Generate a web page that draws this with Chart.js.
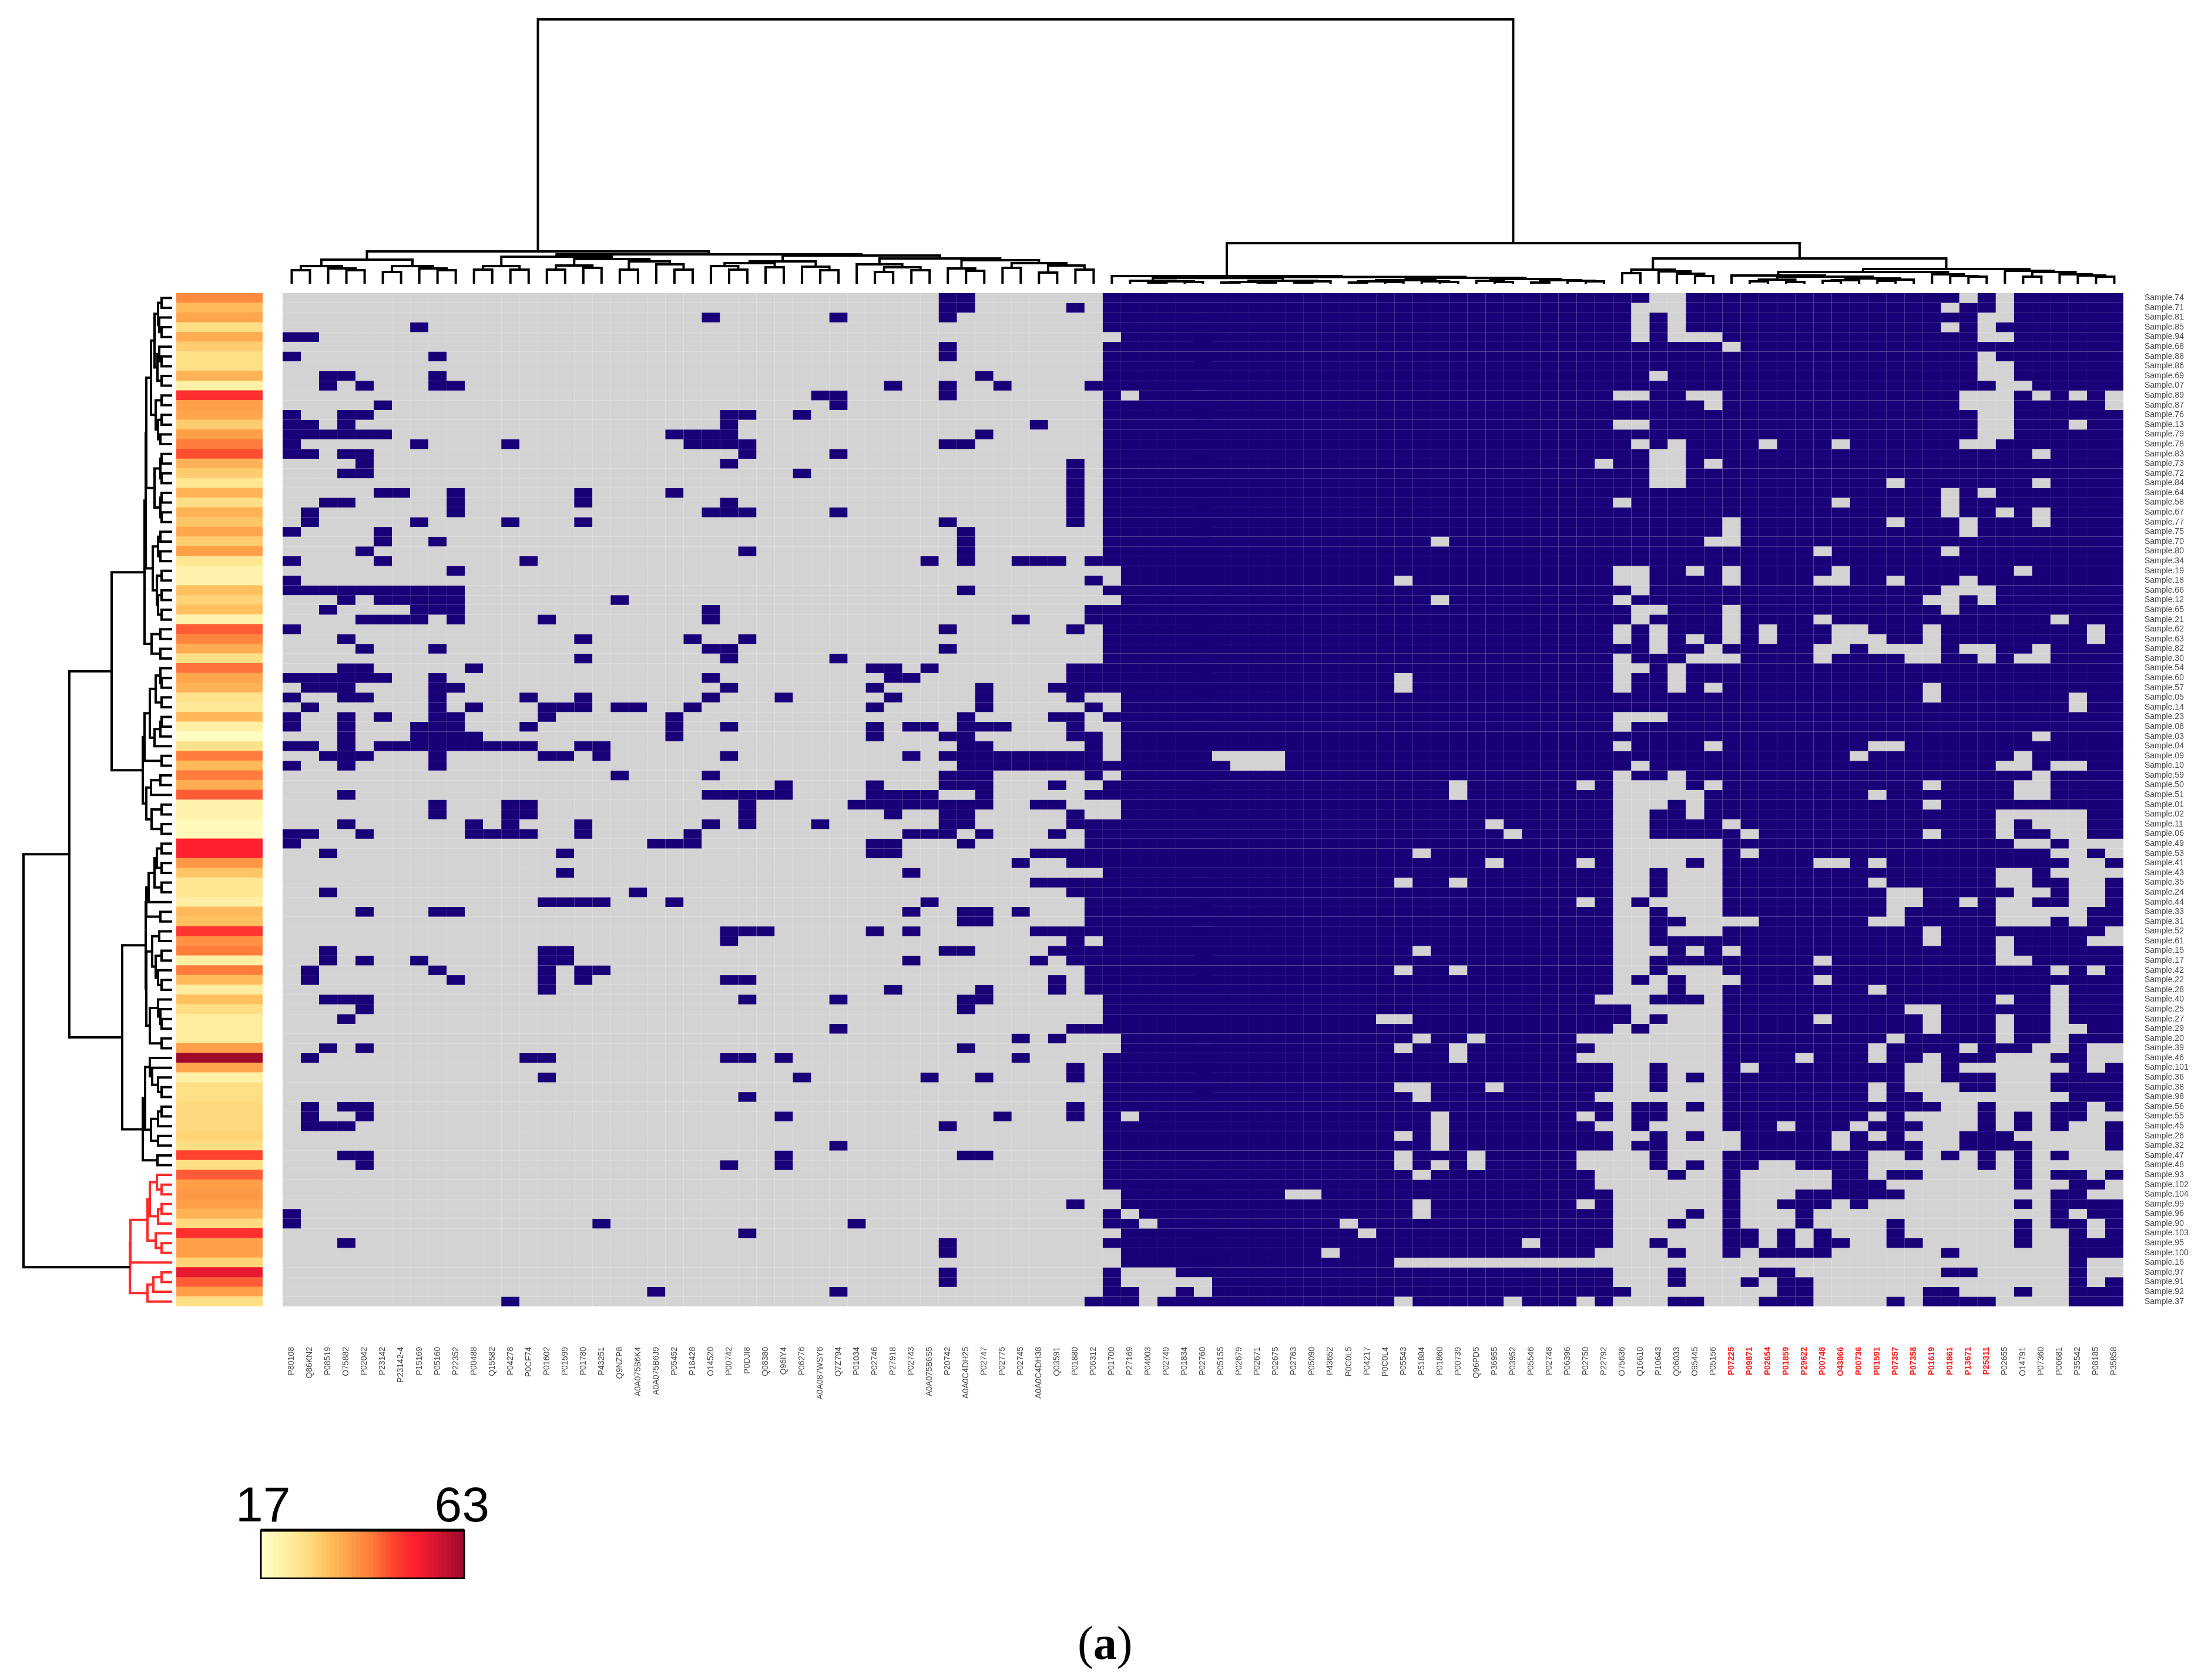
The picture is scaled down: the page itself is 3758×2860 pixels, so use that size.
<!DOCTYPE html>
<html>
<head>
<meta charset="utf-8">
<title>Heatmap</title>
<script src="https://cdn.jsdelivr.net/npm/chart.js@4/dist/chart.umd.min.js"></script>
<style>
html, body { margin: 0; padding: 0; background: #fff; }
#page { position: relative; width: 3758px; height: 2860px; overflow: hidden; background: #fff; }
canvas { position: absolute; display: block; }
#caption { position: absolute; left: 1834px; top: 2752px; font: 80px "Liberation Serif", serif; color: #000; }
</style>
</head>
<body>
<div id="page">
  <canvas id="topTree" width="3133" height="463" style="left:481px;top:20px"></canvas>
  <canvas id="leftTree" width="293" height="1725" style="left:0;top:499px"></canvas>
  <canvas id="ageStrip" width="147" height="1725" style="left:300px;top:499px"></canvas>
  <canvas id="heatmap" width="3277" height="1901" style="left:481px;top:499px"></canvas>
  <canvas id="ageLegend" width="546" height="183" style="left:344px;top:2505px"></canvas>
  <div id="caption">(<b>a</b>)</div>
</div>
<script>
const proteins = ['P80108','Q86KN2','P08519','O75882','P02042','P23142','P23142-4','P15169','P05160','P22352','P00488','Q15582','P04278','P0CF74','P01602','P01599','P01780','P43251','Q9NZP8','A0A075B6K4','A0A075B6J9','P05452','P18428','O14520','P00742','P0DJI8','Q08380','Q96IY4','P06276','A0A087WSY6','Q7Z794','P01034','P02746','P27918','P02743','A0A075B6S5','P20742','A0A0C4DH25','P02747','P02775','P02745','A0A0C4DH38','Q03591','P01880','P06312','P01700','P27169','P04003','P02749','P01834','P02760','P05155','P02679','P02671','P02675','P02763','P05090','P43652','P0C0L5','P04217','P0C0L4','P05543','P51884','P01860','P00739','Q96PD5','P36955','P03952','P05546','P02748','P06396','P02750','P22792','O75636','Q16610','P10643','Q06033','O95445','P05156','P07225','P09871','P02654','P01859','P29622','P00748','O43866','P00736','P01591','P07357','P07358','P01619','P01861','P13671','P25311','P02655','O14791','P07360','P06681','P35542','P08185','P35858'];
const redProteins = ['P07225','P09871','P02654','P01859','P29622','P00748','O43866','P00736','P01591','P07357','P07358','P01619','P01861','P13671','P25311'];

const sampleIds = ['74','71','81','85','94','68','88','86','69','07','89','87','76','13','79','78','83','73','72','84','64','58','67','77','75','70','80','34','19','18','66','12','65','21','62','63','82','30','54','60','57','05','14','23','08','03','04','09','10','59','50','51','01','02','11','06','49','53','41','43','35','24','44','33','31','52','61','15','17','42','22','28','40','25','27','29','20','39','46','101','36','38','98','56','55','45','26','32','47','48','93','102','104','99','96','90','103','95','100','16','97','91','92','37'];

// age per sample
const ages = [40,33,36,27,35,30,27,27,34,22,50,37,36,30,37,42,46,34,30,25,34,27,34,31,36,30,37,25,21,21,32,29,32,21,45,41,35,27,43,36,34,26,24,33,22,18,26,42,33,42,35,45,21,21,19,19,52,52,38,31,25,25,22,33,32,49,39,42,22,42,33,23,32,27,23,23,23,37,63,36,22,27,27,28,28,28,29,27,47,27,45,37,38,37,34,28,50,37,37,29,55,45,37,27];
const legendTicks = [17, 63];

// cells present in the mostly empty left block (columns 1-45), one entry per row
const presentLeft = ['37 38','37 38 44','24 31 37','8','1 2','37','1 9 37','','3 4 9 39','3 5 9 10 34 37 40 45','30 31 37','6 31','1 4 5 25 26 29','1 2 4 25 42','1-6 22-25 39','1 8 13 23-26 37 38','1 2 4 5 26 31','5 25 44','4 5 29 44','44','6 7 10 17 22 44','3 4 10 17 25 44','2 10 24 25 26 31 44','2 8 13 17 37 44','1 6 38','6 9 38','5 26 38','1 6 14 36 38 41 42 43 45','10','1 45','1-10 38','4 6-10 19','3 8 9 10 24 45','5-8 10 15 24 41 45','1 37 44','4 17 23 26','5 9 24 25 37','17 25 31','4 5 11 33 34 36 44 45','1-6 9 24 34 35 44 45','2 3 4 9 10 25 33 39 43 44 45','1 4 5 9 14 17 24 28 34 39 44','2 9 11 15 16 17 19 20 23 33 39 45','1 4 6 9 10 15 22 38 43 44','1 4 8 9 10 14 22 25 33 35 36 38 39 40 44','4 8-11 22 33 37 38 44 45','1 2 4 6-14 17 18 38 39 45','3 4 5 9 15 16 18 25 35 37-45','1 4 9 38-45','19 24 37 38 39 45','28 33 37 38 39 43','4 24-28 33-36 39 45','9 13 14 26 32-39 42 43','9 13 14 26 34 37 38 44','4 11 13 17 24 26 30 37 38 44 45','1 2 5 11-14 17 23 35 36 37 39 43 45','1 21 22 23 33 34 38 45','3 16 33 34 42-45','41 44 45','16 35','42-45','3 20 44 45','15-18 22 36 45','5 9 10 35 38 39 41 45','38 39 45','25 26 27 33 35 42-45','25 44','3 15 16 37 38 43 44 45','3 5 8 15 16 35 42 44 45','2 9 15 17 18 45','2 10 15 17 25 26 43 45','15 34 39 43 45','3 4 5 26 31 38 39','5 38','4','31 44 45','41 43','3 5 38','2 14 15 25 26 28 41','44','15 29 36 39 44','','26','2 4 5 44','2 5 28 40 44','2 3 4 37','','31','4 5 28 38 39','5 25 28','','','','44','1','1 18 32','26','4 37','37','','37','37','21 31','13 45'];

// cells absent in the mostly full right block (columns 46-101), one entry per row
const absentRight = ['76 77 93 95','75 76 77 92 95','75 77 94 95','75 77 92 94','46 75 77 78 79 94 95','80','94','94 95','76 94 95','95 96','47 74 75 78 79 93 94 95 97 99 101','79 93 94 95 101','94 95','74 75 94 95 99','94 95','75 77 82 86 93 94','76 77 97','73 76 77 79','76 77','76 77 89 97','92 94','74 86 92','92 95 97','80 89 93 97','80 93','64 79 80','85 92','','46 74 75 78 80 86 96','46 62 74 75 80 85 86 89 93','75 92 93 94','46 64 74 91 92 94','75 76 80 92','75 80 85 98','74 76 80 82 86 87 91 100','74 76 78 80 82 86 87 88 91 100','76 79 85 86 88 89 90 91 93 94 97','74 78 79 80 85 90 91 94 96 97','74 75 77','62 74 77','62 74 77 79 91','46 91 99','46 99','74 75 76','46 74','46 97','46 74 79 88 89','46 52 53 54 55 87 96','53 54 55 75 95 96 98 99','46 74 77 97','65 72 74-77 79 91 96 97','65 74-78 88 96 97','46 74 75 76 78 91','46 74 75 78 95-99','67 74 75 80 95 97 98 99','68 74 75 81 91 95 98 99','74-79 96 97 99 100 101','63 74-79 81 98 99 101','67 72 74-77 79 85 86 88 99 100','74 75 77 78 79 95 96 98-101','62 65 74 75 77 78 79 88 95 96 99 100','74 75 77 78 79 89 90 96 97 99 100','72 74 76-79 89 90 93 95 96 99 100','74 75 77 78 79 89 95-99','74 75 78-81 88 89 95 96 97 99','74 75 77 78 79 91 101','74 75 91 95 100 101','63 74 75 76 78 80 95','74 75 85 95 96','62 65 74 75 77 78 79 98 100','74 76 78 79 80 85','74 75 76 78 79 88 98','73 74 75 79 95 98','75-79 90 91 98','61 62 75 77 78 79 85 91 95 98','74 76-79 91 95 98 99','46 63 66 72-79 89 95 98','46 62 65 73-79 88 93 97 98 100 101','65 72-79 84 88 91 95 96 97 100 101','74 75 77 78 79 81 90 91 93-98 100','74 75 77 79 90 91 95 96 97','62 63 67 74 75 77 78 79 88 90 91 92 95 96 97','63 73-79 88 91-98','74 77 79 92 93 95 96 97 100','47 64 72 74 77 78 79 88 90-93 95 97 100 101','64 73 74 76-79 83 87 91 92 93 95 97 99 100','62 64 74 75 77 79 80 86 88 90 91 92 96-100','64 74 77-80 86 91 92 97-100','62 66 72-75 77 78 79 88 89 91 93 95 97 99 100 101','62 64 66 72-75 77 79 82 83 88-93 95 97-101','63 73-76 78 79 81-85 88 91-95 97 100','73-79 81-85 89-95 97 98 101','46 56 57 74-79 81 82 83 90-97 100 101','46 63 72 74-79 81 82 86 88-95 97','47 63 74-77 79 81 82 83 85-97 99','48 59 74 75 76 78 79 81 82 83 85-88 90-95 97 100','46 60 74-79 82 84 86 87 88 90-95 97 98 100','69 74 75 77 78 79 82 84 87 88 91-95 97 98','46 58 73-76 78 79 81 86-91 93-98','46 62-98 100 101','47 48 49 74 75 76 78-81 84-91 94-98 100 101','47-51 74 75 76 78 79 80 82 85-98 100','48 49 51 75-82 85-90 93 94 95 97 98','48 62 68 72 74 75 76 79 80 81 85-88 90 95-98'];

// dendrograms as nested [height, branchA, branchB], a bare number is a leaf
const columnTree = [450,
  [55,
    [41,
      [30, [23,1,2], [26,3,[23,4,5]]],
      [30, [20,6,7], [26,8,[23,9,10]]]],
    [50,
      [46,
        [30, [24,11,12], [24,13,14]],
        [42,
          [31, [24,15,16], [27,17,18]],
          [38, [24,19,20], [33,21,[24,22,23]]]]],
      [48,
        [38,
          [35, [30,24,[24,25,26]], [28,27,28]],
          [29,29,[23,30,31]]],
        [43,
          [33,32,[28,[20,33,34],[23,35,36]]],
          [40,
            [26,37,[22,38,39]],
            [35, [27,40,41], [31,[19,42,43],[24,44,45]]]]]]]],
  [69,
    [13,46,
      [11.5,
        [9.7,
          [5,47,[4,[2,48,49],[3,50,51]]],
          [5,[3,[2,52,53],[2,54,55]],[4,[2,56,57],58]]],
        [10,
          [6,[4,[2,59,60],[3,61,62]],[4,63,[3,64,65]]],
          [8,[5,66,[3,67,68]],[6,[2,69,70],[5,71,[4,72,73]]]]]]],
    [43,
      [24, [18,74,75], [21,76,[17,77,[13,78,79]]]],
      [25,
        [20,
          [14,80,
            [12,
              [7,[4,81,82],[3,83,84]],
              [9,[6,[5,85,86],87],[7,[5,88,89],90]]]],
          [16,91,[13,92,[12,93,94]]]],
        [22,95,[20,[12,96,97],[16,98,[14,99,[12,100,101]]]]]]]]];

const rowTreeBlack = [175,
  [103,
    [47,
      [45,
        [44,
          [36,
            [30,
              [24,[18,0,1],[22,2,[18,3,4]]],
              [25,[22,5,[18,6,7]],[18,8,9]]],
            [28,[18,10,11],[24,[18,12,13],[20,14,15]]]],
          [30,[20,[18,16,17],[18,18,19]],[20,[18,20,21],[18,22,23]]]],
        [33,
          [24,[20,24,25],[20,26,27]],
          [26,[18,28,29],[24,[18,30,31],[18,32,33]]]]],
      [35,[20,34,35],[20,36,37]]],
    [50,
      [47,
        [38,
          [28,[20,38,[18,39,40]],[18,41,42]],
          [30,[20,[18,43,44],45],46]],
        [18,47,48]],
      [44,
        [36,[20,49,50],51],
        [35,[18,52,53],[18,54,55]]]]],
  [85,
    [45,
      [44,
        [40,[30,[26,[18,56,57],[18,58,59]],[18,60,61]],62],
        [20,63,64]],
      [44,
        [34,[22,65,66],[28,[18,67,68],[24,69,[18,70,71]]]],
        [38,[24,72,[20,73,[18,74,75]]],[18,76,77]]]],
    [50,
      [46,
        [38,78,[34,79,[24,80,[18,81,82]]]],
        [36,[24,[18,83,84],85],[24,86,87]]],
      [25,88,89]]]];

const rowTreeRed = [72,
  [71,
    [42,
      [38,[26,90,[18,91,92]],[24,[18,93,94],95]],
      [28,96,[18,97,98]]],
    99],
  [42,[32,[18,100,101],102],103]];

const rowRootHeight = 253;

const ageStops = [[17,'#FFFFC8'],[22,'#FFF0A5'],[27,'#FFDF85'],[32,'#FFC060'],[37,'#FF9F48'],[42,'#FF7D3C'],[47,'#FF442E'],[52,'#FF2030'],[57,'#D81530'],[63,'#9E0B2A']];
const NAVY = '#1A0078';
const GREY = '#D3D3D3';
const TICK_GREY = '#4A4A4A';

Chart.defaults.font.family = '"Liberation Sans", Arial, sans-serif';
Chart.defaults.animation = false;
Chart.defaults.responsive = false;
Chart.defaults.devicePixelRatio = 1;
Chart.defaults.events = [];
Chart.defaults.plugins.legend.display = false;
Chart.defaults.plugins.tooltip.enabled = false;
Chart.defaults.layout.autoPadding = false;

function parseCells(text) {
    const cells = new Set();
    text.split(' ').filter(Boolean).forEach(token => {
        const [from, to] = token.split('-').map(Number);
        for (let c = from; c <= (to || from); c++) cells.add(c);
    });
    return cells;
}

function ageColor(age) {
    let i = 0;
    while (i < ageStops.length - 2 && age > ageStops[i + 1][0]) i++;
    const [a0, c0] = ageStops[i];
    const [a1, c1] = ageStops[i + 1];
    const t = (age - a0) / (a1 - a0);
    const rgb = [1, 3, 5].map(k => {
        const v0 = parseInt(c0.substr(k, 2), 16);
        const v1 = parseInt(c1.substr(k, 2), 16);
        return Math.round(v0 + (v1 - v0) * t);
    });
    return `rgb(${rgb.join(',')})`;
}

function pushBranch(out, height, a, b) {
    out.push({ pos: a.pos, h: a.h }, { pos: a.pos, h: height }, { pos: b.pos, h: height }, { pos: b.pos, h: b.h }, { pos: null, h: null });
}

// walks a nested tree, leaves at height 0, parents midway between children
function walkTree(node, out) {
    if (typeof node === 'number') return { pos: node, h: 0 };
    const a = walkTree(node[1], out);
    const b = walkTree(node[2], out);
    pushBranch(out, node[0], a, b);
    return { pos: (a.pos + b.pos) / 2, h: node[0] };
}

function treeDataset(segments, color, horizontal) {
    return {
        data: segments.map(s => horizontal ? { x: s.h, y: s.pos } : { x: s.pos, y: s.h }),
        showLine: true,
        borderColor: color,
        borderWidth: 4,
        pointRadius: 0,
        tension: 0,
        borderJoinStyle: 'miter',
        clip: false
    };
}

// top dendrogram
const columnSegments = [];
walkTree(columnTree, columnSegments);
new Chart(document.getElementById('topTree'), {
    type: 'scatter',
    data: { datasets: [treeDataset(columnSegments, '#000', false)] },
    options: {
        scales: {
            x: { type: 'linear', display: false, min: 0.5, max: proteins.length + 0.5 },
            y: { type: 'linear', display: false, min: 0, max: 463 }
        }
    }
});

// left dendrogram, the last cluster is red
const rowBlackSegments = [];
const rowRedSegments = [];
const blackTop = walkTree(rowTreeBlack, rowBlackSegments);
const redTop = walkTree(rowTreeRed, rowRedSegments);
pushBranch(rowBlackSegments, rowRootHeight, blackTop, redTop);
new Chart(document.getElementById('leftTree'), {
    type: 'scatter',
    data: {
        datasets: [
            treeDataset(rowBlackSegments, '#000', true),
            treeDataset(rowRedSegments, '#FF2A2A', true)
        ]
    },
    options: {
        scales: {
            x: { type: 'linear', display: false, min: 0, max: 293, reverse: true },
            y: { type: 'linear', display: false, min: -0.5, max: sampleIds.length - 0.5, reverse: true }
        }
    }
});

// age strip
const sampleNames = sampleIds.map(id => 'Sample.' + id);
new Chart(document.getElementById('ageStrip'), {
    type: 'bar',
    data: {
        labels: sampleNames,
        datasets: [{
            data: ages.map(() => 1),
            backgroundColor: ages.map(ageColor),
            barPercentage: 1,
            categoryPercentage: 1,
            borderWidth: 0
        }]
    },
    options: {
        indexAxis: 'y',
        scales: {
            x: { display: false, min: 0, max: 1 },
            y: { display: false }
        }
    }
});

// heatmap: one stacked dataset per sample, one bar per protein
const rowDatasets = sampleIds.map((id, r) => {
    const present = parseCells(presentLeft[r]);
    const absent = parseCells(absentRight[r]);
    return {
        label: sampleNames[r],
        yAxisID: 'y',
        data: proteins.map(() => 1),
        backgroundColor: proteins.map((p, i) => {
            const col = i + 1;
            if (col <= 45) return present.has(col) ? NAVY : GREY;
            return absent.has(col) ? GREY : NAVY;
        }),
        barPercentage: 1,
        categoryPercentage: 1,
        borderWidth: 0,
        inflateAmount: 0
    };
});

new Chart(document.getElementById('heatmap'), {
    type: 'bar',
    data: { labels: proteins, datasets: rowDatasets },
    options: {
        scales: {
            x: {
                stacked: true,
                position: 'bottom',
                grid: { display: false, drawTicks: false },
                border: { display: false },
                // the tick padding must not eat into the plot area
                afterFit: scale => {
                    scale.height = 176;
                    scale.paddingLeft = 0;
                    scale.paddingRight = 0;
                },
                ticks: {
                    autoSkip: false,
                    minRotation: 90,
                    maxRotation: 90,
                    padding: 69,
                    font: ctx => ({ size: 14, weight: redProteins.includes(proteins[ctx.index]) ? 'bold' : 'normal' }),
                    color: ctx => redProteins.includes(proteins[ctx.index]) ? '#FF1A1A' : TICK_GREY
                }
            },
            y: { stacked: true, display: false, min: 0, max: sampleIds.length, reverse: true },
            ySamples: {
                type: 'category',
                labels: sampleNames,
                offset: true,
                position: 'right',
                grid: { display: false, drawTicks: false },
                border: { display: false },
                afterFit: scale => {
                    scale.width = 144;
                    scale.paddingTop = 0;
                    scale.paddingBottom = 0;
                },
                ticks: { autoSkip: false, padding: 36, font: { size: 14 }, color: TICK_GREY }
            }
        }
    }
});

// colour key, black frame drawn around the plot area
const legendAges = [];
for (let a = legendTicks[0]; a <= legendTicks[1]; a++) legendAges.push(a);
const legendFrame = {
    id: 'legendFrame',
    afterDraw(chart) {
        const { ctx, chartArea: area } = chart;
        ctx.save();
        ctx.strokeStyle = '#000';
        ctx.lineWidth = 3;
        ctx.strokeRect(area.left, area.top, area.right - area.left, area.bottom - area.top);
        ctx.lineWidth = 5;
        ctx.beginPath();
        ctx.moveTo(area.left, area.top);
        ctx.lineTo(area.right, area.top);
        ctx.moveTo(area.left, area.bottom);
        ctx.lineTo(area.right, area.bottom);
        ctx.stroke();
        ctx.restore();
    }
};
new Chart(document.getElementById('ageLegend'), {
    type: 'bar',
    plugins: [legendFrame],
    data: {
        labels: legendAges,
        datasets: [{
            data: legendAges.map(() => 1),
            backgroundColor: legendAges.map(ageColor),
            barPercentage: 1,
            categoryPercentage: 1,
            borderWidth: 0
        }]
    },
    options: {
        layout: { padding: { left: 100, right: 100 } },
        scales: {
            x: {
                position: 'top',
                grid: { display: false, drawTicks: false },
                border: { display: false },
                afterFit: scale => { scale.height = 100; },
                ticks: {
                    autoSkip: false,
                    maxRotation: 0,
                    padding: 0,
                    color: '#000',
                    font: { size: 84, lineHeight: 0.9 },
                    callback: (value, i) => legendTicks.includes(legendAges[i]) ? String(legendAges[i]) : ''
                }
            },
            y: { display: false, min: 0, max: 1 }
        }
    }
});
</script>
</body>
</html>
